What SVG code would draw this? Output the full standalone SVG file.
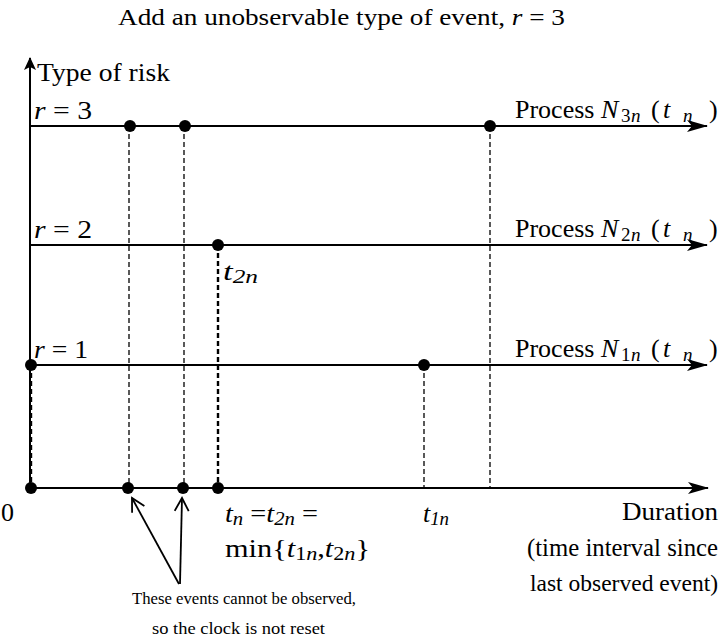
<svg xmlns="http://www.w3.org/2000/svg" width="725" height="642" viewBox="0 0 725 642" font-family="'Liberation Serif', 'DejaVu Serif', serif">
<style>
text{font-family:"Liberation Serif","DejaVu Serif",serif;fill:#000}
.lbl{font-size:26px}
.lb2{font-size:25px}
.lb3{font-size:24px}
.sm{font-size:16px}
.it{font-style:italic}
.sub{font-size:19px}
.axis{stroke:#000;stroke-width:2;fill:none}
.dash{stroke:#000;stroke-width:1.3;stroke-dasharray:5,3;fill:none}
.dashb{stroke:#000;stroke-width:2.4;stroke-dasharray:5,3;fill:none}
.dot{fill:#000}
.ptr{stroke:#000;stroke-width:1.8;fill:none}
</style>
<defs>
<marker id="ah" markerWidth="22" markerHeight="14" refX="20" refY="7" orient="auto" markerUnits="userSpaceOnUse">
<path d="M0,1 L21,7 L0,13 L5,7 z" fill="#000"/>
</marker>
<marker id="ah2" markerWidth="14" markerHeight="14" refX="12" refY="7" orient="auto" markerUnits="userSpaceOnUse">
<path d="M0,1 L13,7 L0,13 L3,7 z" fill="#000"/>
</marker>
<marker id="open" markerWidth="16" markerHeight="16" refX="14" refY="8" orient="auto" markerUnits="userSpaceOnUse">
<path d="M1,1 L14,8 L1,15" stroke="#000" stroke-width="1.8" fill="none"/>
</marker>
</defs>
<text id="title" style="font-size:23px" x="118" y="25" textLength="447" lengthAdjust="spacingAndGlyphs">Add an unobservable type of event, <tspan class="it">r</tspan> = 3</text>
<g id="connectors">
<line class="axis" x1="30" y1="490" x2="30" y2="58" marker-end="url(#ah2)"/>
<line class="axis" x1="30" y1="126" x2="707" y2="126" marker-end="url(#ah)"/>
<line class="axis" x1="30" y1="245" x2="707" y2="245" marker-end="url(#ah)"/>
<line class="axis" x1="30" y1="365" x2="707" y2="365" marker-end="url(#ah)"/>
<line class="axis" x1="30" y1="488" x2="708" y2="488" marker-end="url(#ah)"/>
<line class="dashb" x1="31" y1="365" x2="31" y2="488"/>
<line class="dash" x1="129" y1="126" x2="129" y2="488"/>
<line class="dash" x1="184" y1="126" x2="184" y2="488"/>
<line class="dashb" x1="218" y1="245" x2="218" y2="488"/>
<line class="dash" x1="424" y1="365" x2="424" y2="488"/>
<line class="dash" x1="490" y1="126" x2="490" y2="488"/>
<line class="ptr" x1="179" y1="584" x2="132" y2="498" marker-end="url(#open)"/>
<line class="ptr" x1="180" y1="584" x2="182" y2="498" marker-end="url(#open)"/>
</g>
<g id="axis-labels">
<text class="lbl" x="37" y="81" textLength="133" lengthAdjust="spacingAndGlyphs">Type of risk</text>
<text class="lbl" x="34" y="119" textLength="58" lengthAdjust="spacingAndGlyphs"><tspan class="it">r</tspan> = 3</text>
<text class="lbl" x="34" y="238" textLength="58" lengthAdjust="spacingAndGlyphs"><tspan class="it">r</tspan> = 2</text>
<text class="lbl" x="34" y="358" textLength="54" lengthAdjust="spacingAndGlyphs"><tspan class="it">r</tspan> = 1</text>
<text class="lbl" x="1" y="521">0</text>
<text class="lbl" x="622" y="520" textLength="96" lengthAdjust="spacingAndGlyphs">Duration</text>
<text class="lb2" x="527" y="556" textLength="191" lengthAdjust="spacingAndGlyphs">(time interval since</text>
<text class="lb3" x="530" y="591" textLength="188" lengthAdjust="spacingAndGlyphs">last observed event)</text>
</g>
<g id="process3">
<text class="lbl" y="118"><tspan x="515">Process</tspan><tspan class="it" x="601">N</tspan><tspan class="sub" x="621" dy="4">3</tspan><tspan class="sub it" x="631">n</tspan><tspan x="651" dy="-4">(</tspan><tspan class="it" x="663">t</tspan><tspan class="sub it" x="683" dy="4">n</tspan><tspan x="709" dy="-4">)</tspan></text>
</g>
<g id="process2">
<text class="lbl" y="237"><tspan x="515">Process</tspan><tspan class="it" x="601">N</tspan><tspan class="sub" x="621" dy="4">2</tspan><tspan class="sub it" x="631">n</tspan><tspan x="651" dy="-4">(</tspan><tspan class="it" x="663">t</tspan><tspan class="sub it" x="683" dy="4">n</tspan><tspan x="709" dy="-4">)</tspan></text>
</g>
<g id="process1">
<text class="lbl" y="357"><tspan x="515">Process</tspan><tspan class="it" x="601">N</tspan><tspan class="sub" x="621" dy="4">1</tspan><tspan class="sub it" x="631">n</tspan><tspan x="651" dy="-4">(</tspan><tspan class="it" x="663">t</tspan><tspan class="sub it" x="683" dy="4">n</tspan><tspan x="709" dy="-4">)</tspan></text>
</g>
<g id="events">
<circle class="dot" cx="130" cy="126" r="6"/>
<circle class="dot" cx="185" cy="126" r="6"/>
<circle class="dot" cx="490" cy="126" r="6"/>
<circle class="dot" cx="218" cy="245" r="6"/>
<circle class="dot" cx="31" cy="365" r="6"/>
<circle class="dot" cx="424" cy="365" r="6"/>
<circle class="dot" cx="31" cy="488" r="6"/>
<circle class="dot" cx="128" cy="488" r="6"/>
<circle class="dot" cx="183" cy="488" r="6"/>
<circle class="dot" cx="218" cy="488" r="6"/>
</g>
<g id="t2n-label">
<text class="lbl it" x="223" y="280" textLength="35" lengthAdjust="spacingAndGlyphs">t<tspan class="sub" dy="3">2n</tspan></text>
</g>
<g id="t1n-label">
<text class="lbl it" x="423" y="522" textLength="26" lengthAdjust="spacingAndGlyphs">t<tspan class="sub" dy="3">1n</tspan></text>
</g>
<g id="tn-label">
<text class="lbl" x="225" y="522" textLength="93" lengthAdjust="spacingAndGlyphs"><tspan class="it">t</tspan><tspan class="sub it" dy="3">n</tspan><tspan dy="-3"> =</tspan><tspan class="it">t</tspan><tspan class="sub it" dy="3">2n</tspan><tspan dy="-3"> =</tspan></text>
<text class="lbl" x="225" y="557" textLength="145" lengthAdjust="spacingAndGlyphs">min{<tspan class="it">t</tspan><tspan class="sub" dy="3">1<tspan class="it">n</tspan></tspan><tspan dy="-3">,</tspan><tspan class="it">t</tspan><tspan class="sub" dy="3">2<tspan class="it">n</tspan></tspan><tspan dy="-3">}</tspan></text>
</g>
<g id="note">
<text class="sm" x="132" y="604" textLength="224" lengthAdjust="spacingAndGlyphs">These events cannot be observed,</text>
<text class="sm" x="152" y="634" textLength="173" lengthAdjust="spacingAndGlyphs">so the clock is not reset</text>
</g>
</svg>
